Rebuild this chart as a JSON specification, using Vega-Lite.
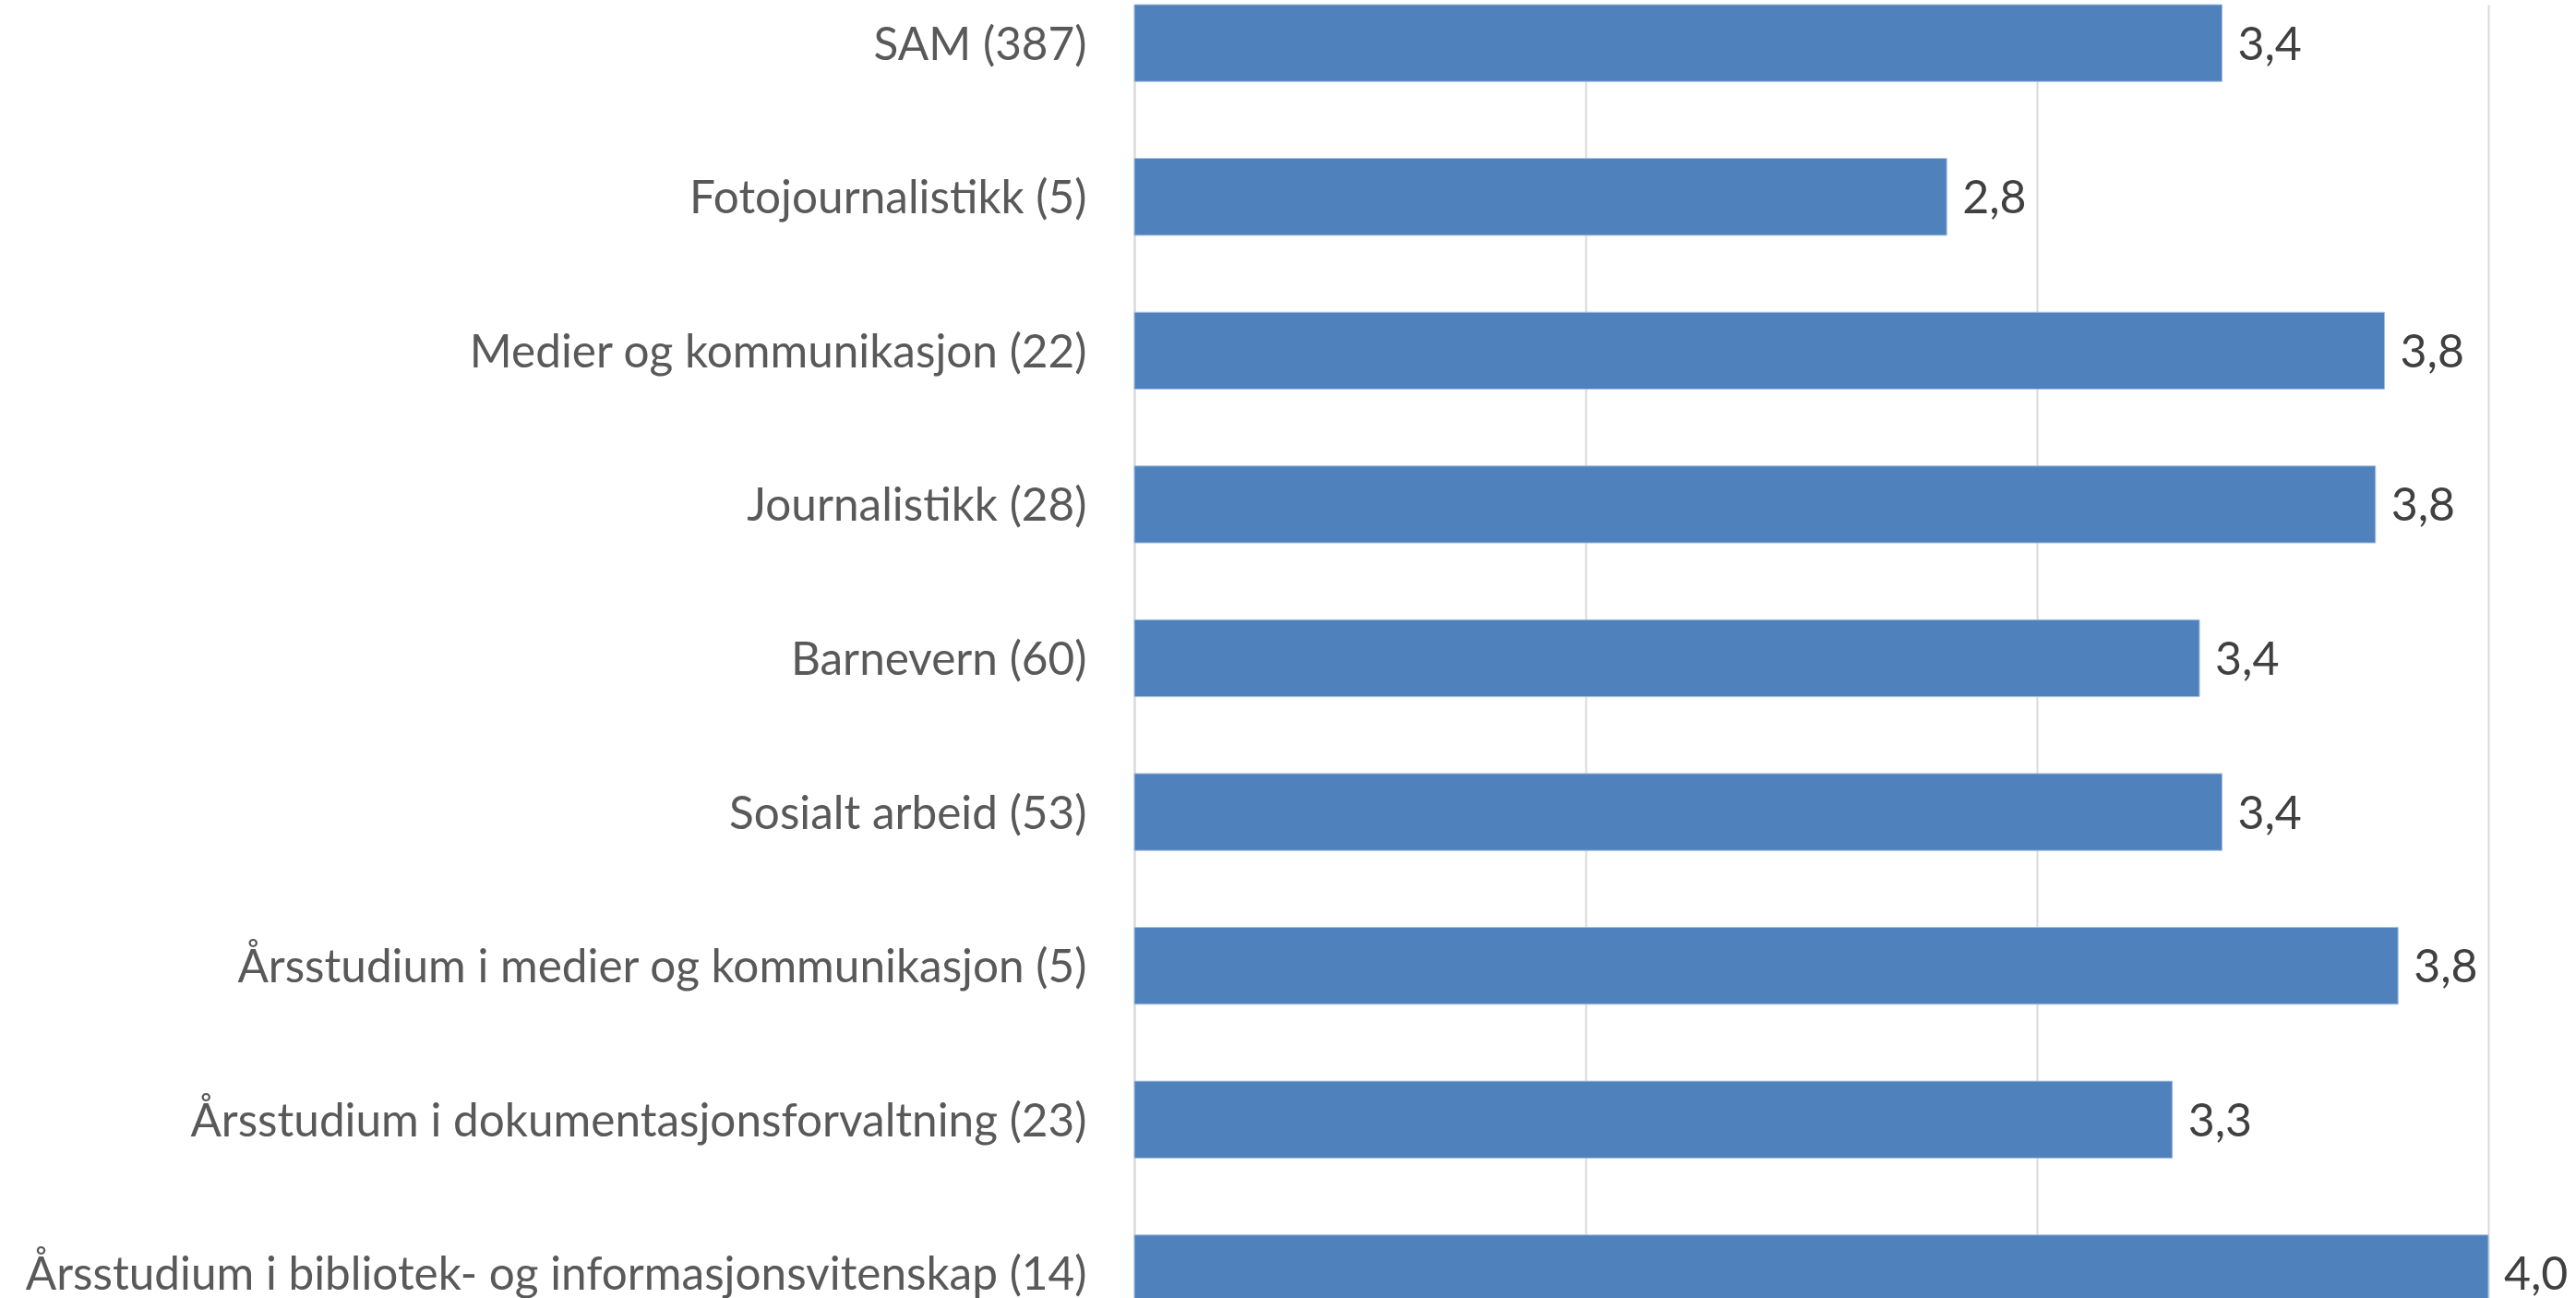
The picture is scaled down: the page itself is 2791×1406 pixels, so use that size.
{
  "$schema": "https://vega.github.io/schema/vega-lite/v6.json",
  "width": 1467,
  "height": 1416,
  "autosize": {"type": "none"},
  "padding": {"left": 1229, "top": 5, "right": 95, "bottom": 0},
  "background": "white",
  "config": {
    "locale": {"number": {"decimal": ",", "thousands": " ", "grouping": [3], "currency": ["", " kr"]}},
    "view": {"stroke": null}
  },
  "data": {
    "values": [
      {"program": "SAM (387)", "score": 3.41},
      {"program": "Fotojournalistikk (5)", "score": 2.8},
      {"program": "Medier og kommunikasjon (22)", "score": 3.77},
      {"program": "Journalistikk (28)", "score": 3.75},
      {"program": "Barnevern (60)", "score": 3.36},
      {"program": "Sosialt arbeid (53)", "score": 3.41},
      {"program": "Årsstudium i medier og kommunikasjon (5)", "score": 3.8},
      {"program": "Årsstudium i dokumentasjonsforvaltning (23)", "score": 3.3},
      {"program": "Årsstudium i bibliotek- og informasjonsvitenskap (14)", "score": 4.0}
    ]
  },
  "encoding": {
    "y": {
      "field": "program",
      "type": "nominal",
      "sort": null,
      "scale": {"paddingInner": 0.5, "paddingOuter": 0},
      "axis": {
        "title": null,
        "ticks": false,
        "tickSize": 0,
        "domain": true,
        "domainColor": "#d9d9d9",
        "domainWidth": 2,
        "labelPadding": 52,
        "labelOffset": 3,
        "labelFont": "Lato",
        "labelFontSize": 49.5,
        "labelColor": "#595959",
        "labelLimit": 1300
      }
    },
    "x": {
      "field": "score",
      "type": "quantitative",
      "scale": {"domain": [1, 4], "zero": false, "nice": false},
      "axis": {
        "title": null,
        "values": [1, 2, 3, 4],
        "grid": true,
        "gridColor": "#d9d9d9",
        "gridWidth": 2,
        "labels": false,
        "ticks": false,
        "domain": false
      }
    }
  },
  "layer": [
    {
      "mark": {"type": "bar", "color": "#4f81bd", "stroke": "#a8c0e0", "strokeWidth": 1},
      "encoding": {"x2": {"datum": 1}}
    },
    {
      "mark": {"type": "text", "align": "left", "baseline": "middle", "dx": 17, "dy": 3, "font": "Lato", "fontSize": 50, "color": "#404040"},
      "encoding": {"text": {"field": "score", "type": "quantitative", "format": ".1f"}}
    }
  ]
}
